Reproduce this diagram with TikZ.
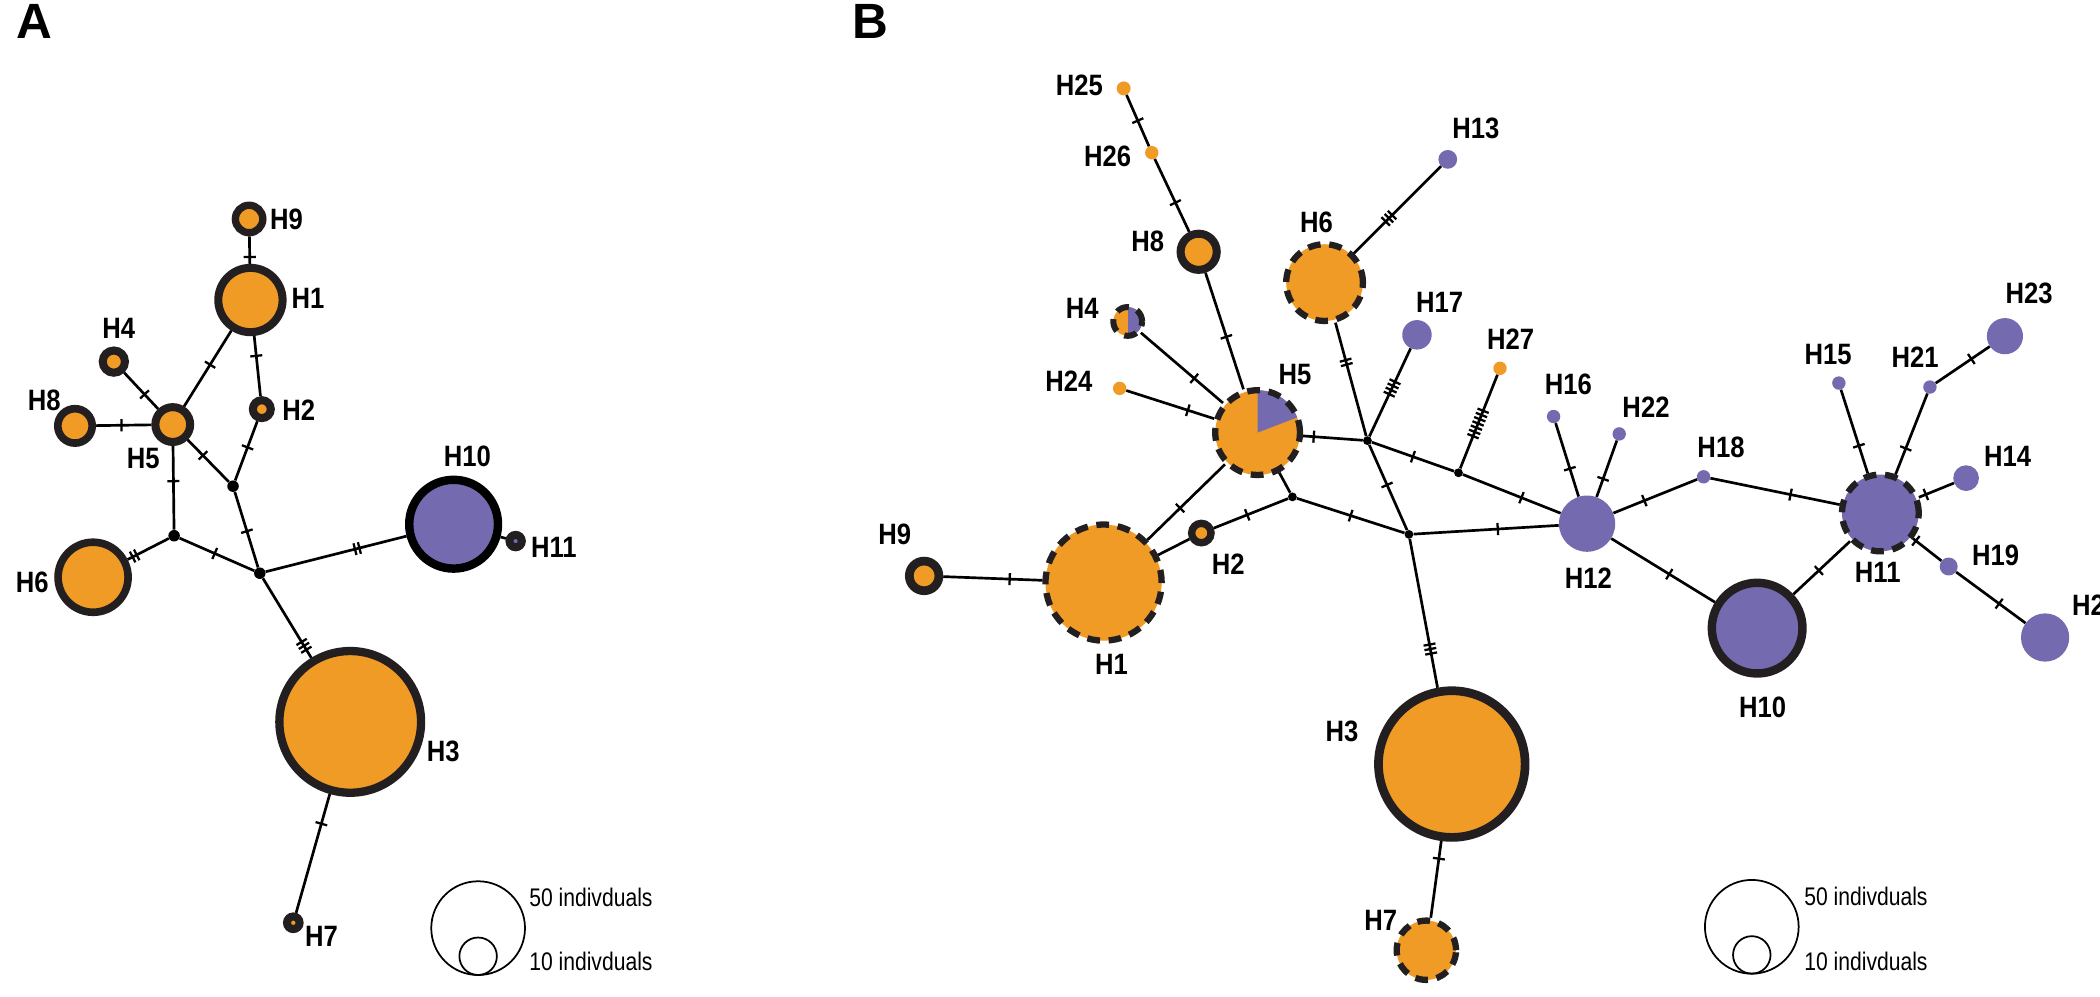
\documentclass[tikz,border=0pt]{standalone}
\usepackage{fontspec}
\setmainfont{Liberation Sans}
\newfontfamily\labfont{Liberation Sans}[FakeStretch=0.87]
\newfontfamily\legfont{Liberation Sans}[FakeStretch=0.83]
\usetikzlibrary{decorations.markings}
\definecolor{orng}{RGB}{239,155,38}
\definecolor{purp}{RGB}{116,106,175}
\definecolor{ringc}{RGB}{35,31,32}
\begin{document}
\begin{tikzpicture}[x=1pt,y=-1pt,
  edge/.style={line width=2pt,black},
  tk/.style 2 args={postaction={decorate,decoration={markings,mark=at position #1 with {\foreach \k in {1,...,#2}{\draw[line width=1.7pt,black] ({(\k-(#2+1)/2)*3.4pt},-4.5pt) -- ({(\k-(#2+1)/2)*3.4pt},4.5pt);}}}}},
  hap/.style={circle,inner sep=0pt},
  och/.style={hap,fill=orng,draw=ringc},
  pch/.style={hap,fill=purp},
  oplain/.style={hap,fill=orng},
  dring/.style={draw=ringc,line width=4.7pt,dash pattern=on 9.5pt off 6.5pt},
  jn/.style={circle,fill=black,inner sep=0pt},
  lab/.style={font=\labfont\bfseries\fontsize{22}{22}\selectfont,inner sep=0pt},
  legt/.style={font=\legfont\fontsize{19}{19}\selectfont,inner sep=0pt,anchor=west},
  pan/.style={font=\bfseries\fontsize{37}{37}\selectfont,inner sep=0pt,anchor=base},
  legc/.style={circle,draw=black,line width=1.3pt,inner sep=0pt}
]
\fill[white] (0,0) rectangle (1568,744);
\useasboundingbox (0,0) rectangle (1568,744);

% ---------------- Panel A ----------------
\node[pan] (pA) at (25.5,28.5) {A};
\node[och,line width=5.5pt,minimum size=20.5pt] (aH9) at (186,163.5) {};
\node[och,line width=6pt,minimum size=48pt] (aH1) at (187,224) {};
\node[och,line width=6pt,minimum size=16.6pt] (aH4) at (85,270) {};
\node[och,line width=5.7pt,minimum size=25.7pt] (aH8) at (56,318) {};
\node[och,line width=6pt,minimum size=26pt] (aH5) at (129,317) {};
\node[och,line width=6pt,minimum size=13.4pt] (aH2) at (195.5,305.5) {};
\node[och,line width=5.7pt,minimum size=52.3pt] (aH6) at (69.5,431) {};
\node[hap,fill=purp,draw=black,line width=6.3pt,minimum size=66.3pt] (aH10) at (338.7,391.4) {};
\node[hap,fill=purp,draw=ringc,line width=6pt,minimum size=9.2pt] (aH11) at (385,404) {};
\node[och,line width=6.2pt,minimum size=105.8pt] (aH3) at (261.5,539) {};
\node[och,line width=6pt,minimum size=9.4pt] (aH7) at (219,689) {};
\node[jn,minimum size=8.6pt] (aj1) at (174,363) {};
\node[jn,minimum size=8.6pt] (aj2) at (130,400) {};
\node[jn,minimum size=8.6pt] (aj3) at (194,428) {};

\node[lab] (laH9) at (214,163.5) {H9};
\node[lab] (laH1) at (230,222.7) {H1};
\node[lab] (laH4) at (88.6,245) {H4};
\node[lab] (laH8) at (33,298.7) {H8};
\node[lab] (laH5) at (107,342) {H5};
\node[lab] (laH2) at (223,306) {H2};
\node[lab] (laH10) at (349,341) {H10};
\node[lab] (laH11) at (413.6,409) {H11};
\node[lab] (laH6) at (24,434.6) {H6};
\node[lab] (laH3) at (331,561) {H3};
\node[lab] (laH7) at (240,699) {H7};

\draw[edge,tk={0.75}{1}] (aH9) -- (aH1);
\draw[edge,tk={0.45}{1}] (aH1) -- (aH5);
\draw[edge,tk={0.33}{1}] (aH1) -- (aH2);
\draw[edge,tk={0.6}{1}] (aH4) -- (aH5);
\draw[edge,tk={0.46}{1}] (aH8) -- (aH5);
\draw[edge,tk={0.37}{1}] (aH5) -- (aj1);
\draw[edge,tk={0.44}{1}] (aH2) -- (aj1);
\draw[edge,tk={0.42}{1}] (aH5) -- (aj2);
\draw[edge,tk={0.83}{2}] (aj2) -- (aH6);
\draw[edge,tk={0.47}{1}] (aj2) -- (aj3);
\draw[edge,tk={0.52}{1}] (aj1) -- (aj3);
\draw[edge,tk={0.65}{2}] (aj3) -- (aH10);
\draw[edge] (aH10) -- (aH11);
\draw[edge,tk={0.85}{3}] (aj3) -- (aH3);
\draw[edge,tk={0.25}{1}] (aH3) -- (aH7);

% legend A
\node[legc,minimum size=70pt] (aLb) at (357,693) {};
\node[legc,minimum size=28pt] (aLs) at (357,714) {};
\node[legt] (aL50) at (395,670) {50 indivduals};
\node[legt] (aL10) at (395,718) {10 indivduals};

% ---------------- Panel B ----------------
\node[pan] (pB) at (650,28.5) {B};
\node[oplain,minimum size=10.4pt] (bH25) at (839,66) {};
\node[oplain,minimum size=10pt] (bH26) at (860,114) {};
\node[och,line width=6pt,minimum size=27pt] (bH8) at (895,188) {};
\node[oplain,dring,minimum size=57.3pt] (bH6) at (989,211) {};
\node[pch,minimum size=14pt] (bH13) at (1081,119) {};
\node[oplain,dring,line width=4.5pt,minimum size=21.5pt,
  path picture={\fill[purp] (path picture bounding box.north) rectangle (path picture bounding box.south east);}] (bH4) at (842,240) {};
\node[oplain,minimum size=10pt] (bH24) at (836,290) {};
\node[oplain,dring,minimum size=63.3pt,
  path picture={\fill[purp] (path picture bounding box.center) -- +(270:60) -- +(305:80) -- +(339:60) -- cycle;}] (bH5) at (939,323) {};
\node[pch,minimum size=22pt] (bH17) at (1058,250) {};
\node[oplain,minimum size=10pt] (bH27) at (1120,275) {};
\node[pch,minimum size=10pt] (bH16) at (1160,311) {};
\node[pch,minimum size=10pt] (bH22) at (1209,324) {};
\node[pch,minimum size=42pt] (bH12) at (1185,391) {};
\node[pch,minimum size=10pt] (bH18) at (1272,356) {};
\node[pch,dring,minimum size=57.3pt] (bH11) at (1404,383) {};
\node[pch,minimum size=10pt] (bH15) at (1373,286) {};
\node[pch,minimum size=10pt] (bH21) at (1441,289) {};
\node[pch,minimum size=27pt] (bH23) at (1497,251) {};
\node[pch,minimum size=19.2pt] (bH14) at (1468,357) {};
\node[pch,minimum size=13.4pt] (bH19) at (1455,423) {};
\node[pch,minimum size=36pt] (bH20) at (1527,476) {};
\node[hap,fill=purp,draw=ringc,line width=6.3pt,minimum size=67.7pt] (bH10) at (1312,469) {};
\node[och,line width=5.5pt,minimum size=14.5pt] (bH2) at (897,398) {};
\node[oplain,dring,minimum size=86.7pt] (bH1) at (824,435) {};
\node[och,line width=6.5pt,minimum size=22.1pt] (bH9) at (690,430) {};
\node[och,line width=6.5pt,minimum size=109.5pt] (bH3) at (1084,570.5) {};
\node[oplain,dring,minimum size=44.3pt] (bH7) at (1065,709.5) {};
\node[jn,minimum size=6.6pt] (bj1) at (1021,329) {};
\node[jn,minimum size=6.6pt] (bj2) at (1089,353) {};
\node[jn,minimum size=6.6pt] (bj3) at (965,371) {};
\node[jn,minimum size=6.6pt] (bj4) at (1052,399) {};

\node[lab] (lbH25) at (806,64) {H25};
\node[lab] (lbH26) at (827,117) {H26};
\node[lab] (lbH8) at (857,180) {H8};
\node[lab] (lbH6) at (983,166) {H6};
\node[lab] (lbH13) at (1102,96) {H13};
\node[lab] (lbH4) at (808,230) {H4};
\node[lab] (lbH24) at (798,285) {H24};
\node[lab] (lbH5) at (967,280) {H5};
\node[lab] (lbH17) at (1075,226) {H17};
\node[lab] (lbH27) at (1128,253) {H27};
\node[lab] (lbH16) at (1171,287) {H16};
\node[lab] (lbH22) at (1229,304) {H22};
\node[lab] (lbH12) at (1186,432) {H12};
\node[lab] (lbH18) at (1285,334) {H18};
\node[lab] (lbH11) at (1402,427) {H11};
\node[lab] (lbH15) at (1365,265) {H15};
\node[lab] (lbH21) at (1430,267) {H21};
\node[lab] (lbH23) at (1515,219) {H23};
\node[lab] (lbH14) at (1499,341) {H14};
\node[lab] (lbH19) at (1490,415) {H19};
\node[lab,anchor=west] (lbH20) at (1547,452) {H20};
\node[lab] (lbH10) at (1316,528) {H10};
\node[lab] (lbH2) at (917,421) {H2};
\node[lab] (lbH1) at (830,496) {H1};
\node[lab] (lbH9) at (668,399) {H9};
\node[lab] (lbH3) at (1002,546) {H3};
\node[lab] (lbH7) at (1031,687) {H7};

\draw[edge,tk={0.5}{1}] (bH25) -- (bH26);
\draw[edge,tk={0.6}{1}] (bH26) -- (bH8);
\draw[edge,tk={0.55}{1}] (bH8) -- (bH5);
\draw[edge,tk={0.65}{1}] (bH4) -- (bH5);
\draw[edge,tk={0.7}{1}] (bH24) -- (bH5);
\draw[edge,tk={0.18}{1}] (bH5) -- (bj1);
\draw[edge] (bH5) -- (bj3);
\draw[edge,tk={0.35}{2}] (bH6) -- (bj1);
\draw[edge,tk={0.6}{3}] (bH13) -- (bH6);
\draw[edge,tk={0.45}{4}] (bH17) -- (bj1);
\draw[edge,tk={0.5}{1}] (bj1) -- (bj2);
\draw[edge,tk={0.52}{7}] (bH27) -- (bj2);
\draw[edge,tk={0.6}{1}] (bj2) -- (bH12);
\draw[edge,tk={0.47}{1}] (bj1) -- (bj4);
\draw[edge,tk={0.5}{1}] (bj3) -- (bj4);
\draw[edge,tk={0.55}{1}] (bj3) -- (bH2);
\draw[edge] (bH2) -- (bH1);
\draw[edge,tk={0.58}{1}] (bH5) -- (bH1);
\draw[edge,tk={0.67}{1}] (bH9) -- (bH1);
\draw[edge,tk={0.58}{1}] (bj4) -- (bH12);
\draw[edge,tk={0.74}{3}] (bj4) -- (bH3);
\draw[edge,tk={0.23}{1}] (bH3) -- (bH7);
\draw[edge,tk={0.62}{1}] (bH16) -- (bH12);
\draw[edge,tk={0.68}{1}] (bH22) -- (bH12);
\draw[edge,tk={0.37}{1}] (bH12) -- (bH18);
\draw[edge,tk={0.62}{1}] (bH18) -- (bH11);
\draw[edge,tk={0.56}{1}] (bH12) -- (bH10);
\draw[edge,tk={0.45}{1}] (bH10) -- (bH11);
\draw[edge,tk={0.67}{1}] (bH15) -- (bH11);
\draw[edge,tk={0.68}{1}] (bH21) -- (bH11);
\draw[edge,tk={0.66}{1}] (bH21) -- (bH23);
\draw[edge,tk={0.8}{1}] (bH14) -- (bH11);
\draw[edge,tk={0.1}{1}] (bH11) -- (bH19);
\draw[edge,tk={0.62}{1}] (bH19) -- (bH20);

% legend B
\node[legc,minimum size=70pt] (bLb) at (1308,692) {};
\node[legc,minimum size=28pt] (bLs) at (1308,713) {};
\node[legt] (bL50) at (1347,669) {50 indivduals};
\node[legt] (bL10) at (1347,718) {10 indivduals};
\end{tikzpicture}
\end{document}
